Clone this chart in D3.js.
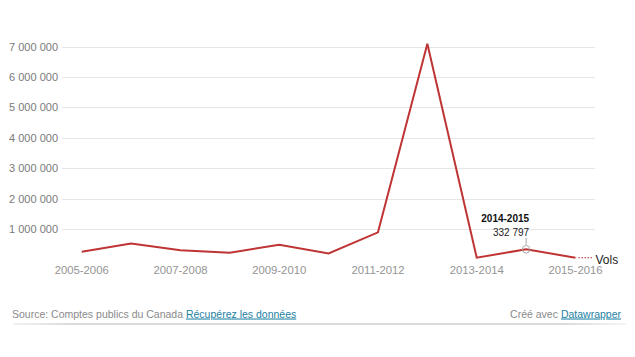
<!DOCTYPE html>
<html>
<head>
<meta charset="utf-8">
<script src="https://cdn.jsdelivr.net/npm/d3@7/dist/d3.min.js"></script>
<style>
  html, body { margin: 0; padding: 0; background: #fff; }
  svg { display: block; font-family: "Liberation Sans", Arial, Helvetica, sans-serif; }
</style>
</head>
<body>
<svg id="chart" width="635" height="357"></svg>
<script>
const categories = ["2005-2006","2006-2007","2007-2008","2008-2009","2009-2010","2010-2011","2011-2012","2012-2013","2013-2014","2014-2015","2015-2016"];
const values = [250000, 525000, 305000, 220000, 480000, 195000, 890000, 7100000, 55000, 332797, 55000];
const yTicks = [1000000, 2000000, 3000000, 4000000, 5000000, 6000000, 7000000];
const xTickLabels = ["2005-2006","2007-2008","2009-2010","2011-2012","2013-2014","2015-2016"];
const seriesName = "Vols";
const highlight = { category: "2014-2015", value: 332797 };
const sourceText = "Source: Comptes publics du Canada";
const sourceLink = "Récupérez les données";
const creditText = "Créé avec";
const creditLink = "Datawrapper";

const svg = d3.select("#chart");
const fmt = v => d3.format(",")(v).replace(/,/g, " ");

const x = d3.scalePoint().domain(categories).range([81.7, 575.5]);
const y = d3.scaleLinear().domain([0, 7000000]).range([259.4, 46.7]);

// gridlines
svg.append("g").selectAll("line").data(yTicks).join("line")
  .attr("x1", 62).attr("x2", 595)
  .attr("y1", d => Math.round(y(d)) + 0.5).attr("y2", d => Math.round(y(d)) + 0.5)
  .attr("stroke", "#e6e6e6").attr("stroke-width", 1);

// y labels
svg.append("g").selectAll("text").data(yTicks).join("text")
  .attr("x", 58).attr("y", d => y(d) + 4)
  .attr("text-anchor", "end").attr("font-size", 11).attr("fill", "#7a7a7a")
  .text(d => fmt(d));

// x labels
svg.append("g").selectAll("text").data(xTickLabels).join("text")
  .attr("x", d => x(d)).attr("y", 273.5)
  .attr("text-anchor", "middle").attr("font-size", 11.3).attr("fill", "#949494")
  .text(d => d);

// line
const line = d3.line().x((d, i) => x(categories[i])).y(d => y(d));
svg.append("path").datum(values)
  .attr("d", line).attr("fill", "none")
  .attr("stroke", "#bf3434").attr("stroke-width", 2).attr("stroke-linejoin", "miter");

// series label
const lastX = x(categories[categories.length - 1]);
const lastY = y(values[values.length - 1]);
svg.append("line")
  .attr("x1", lastX + 3).attr("x2", lastX + 17)
  .attr("y1", lastY).attr("y2", lastY)
  .attr("stroke", "#bf3434").attr("stroke-width", 1).attr("stroke-dasharray", "1.5,1.5");
svg.append("text").attr("x", lastX + 20).attr("y", lastY + 6.5)
  .attr("font-size", 12).attr("fill", "#222").text(seriesName);

// highlight annotation
const hx = x(highlight.category), hy = y(highlight.value);
svg.append("circle").attr("cx", hx).attr("cy", hy).attr("r", 3.8)
  .attr("fill", "none").attr("stroke", "#aaa").attr("stroke-width", 1);
svg.append("line").attr("x1", hx).attr("x2", hx).attr("y1", hy - 11.5).attr("y2", hy - 4.5)
  .attr("stroke", "#aaa").attr("stroke-width", 1);
svg.append("text").attr("x", hx + 3).attr("y", 222)
  .attr("text-anchor", "end").attr("font-size", 10).attr("font-weight", "bold").attr("fill", "#111")
  .text(highlight.category);
svg.append("text").attr("x", hx + 3).attr("y", 235.5)
  .attr("text-anchor", "end").attr("font-size", 10).attr("fill", "#222")
  .text(fmt(highlight.value));

// footer
const f = svg.append("text").attr("x", 12).attr("y", 317.5).attr("font-size", 10.5).attr("fill", "#8a8a8a");
f.append("tspan").text(sourceText + " ");
f.append("tspan").attr("fill", "#1d81a2").attr("text-decoration", "underline").text(sourceLink);
const c = svg.append("text").attr("x", 621).attr("y", 317.5).attr("text-anchor", "end").attr("font-size", 10.5).attr("fill", "#8a8a8a");
c.append("tspan").text(creditText + " ");
c.append("tspan").attr("fill", "#1d81a2").attr("text-decoration", "underline").text(creditLink);

const grad = svg.append("defs").append("linearGradient").attr("id", "fg");
grad.append("stop").attr("offset", "0%").attr("stop-color", "#f2f2f2");
grad.append("stop").attr("offset", "10%").attr("stop-color", "#dadada");
grad.append("stop").attr("offset", "90%").attr("stop-color", "#dadada");
grad.append("stop").attr("offset", "100%").attr("stop-color", "#f6f6f6");
svg.append("rect").attr("x", 13).attr("y", 323).attr("width", 613).attr("height", 2).attr("fill", "url(#fg)");
</script>
</body>
</html>
